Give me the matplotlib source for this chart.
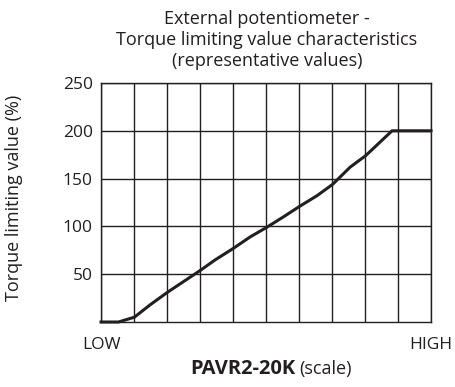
import matplotlib.pyplot as plt
import numpy as np

plt.rcParams['font.family'] = ['Open Sans', 'DejaVu Sans']

# potentiometer scale position (0 = LOW, 10 = HIGH) vs torque limit (%)
scale_pos = [0.0, 0.53, 1.01, 1.49, 2.01, 3.01, 3.46, 4.01, 4.52, 5.02,
             5.53, 6.02, 6.54, 7.02, 7.55, 8.02, 8.82, 10.0]
torque_pct = [0, 0, 5, 18, 31, 54, 65, 77, 89, 99,
              110, 121, 132, 144, 162, 174, 200, 200]
y_ticks = [50, 100, 150, 200, 250]
x_tick_labels = ['LOW', 'HIGH']

ink = '#231f20'
fs = 13

fig = plt.figure(figsize=(4.55, 3.87), dpi=100)
ax = fig.add_axes([101 / 455, 1 - 322 / 387, 330 / 455, 239 / 387])

ax.set_xlim(0, 10)
ax.set_ylim(0, 250)
ax.set_xticks(np.arange(0, 11, 1))
ax.set_xticklabels([x_tick_labels[0]] + [''] * 9 + [x_tick_labels[1]])
ax.set_yticks(y_ticks)
ax.grid(True, color=ink, linewidth=1.0)
ax.tick_params(length=0, labelsize=fs - 0.5, colors=ink, pad=6)
ax.tick_params(axis='x', pad=11)
for s in ax.spines.values():
    s.set_color(ink)
    s.set_linewidth(1.0)

ax.plot(scale_pos, torque_pct, color=ink, linewidth=2.2, solid_joinstyle='miter',
        clip_on=False, zorder=3)

ax.set_ylabel('Torque limiting value (%)', fontsize=fs, color=ink, labelpad=8)
ax.yaxis.set_label_coords(-78 / 330, 0.52)

fig.text(267 / 455, 1 - 40 / 387,
         'External potentiometer -\nTorque limiting value characteristics\n(representative values)',
         ha='center', va='center', fontsize=fs, color=ink, linespacing=1.25)

fig.text(295 / 455, 1 - 369 / 387, 'PAVR2-20K', ha='right', va='center',
         fontsize=14.5, fontweight='bold', color=ink)
fig.text(299 / 455, 1 - 369 / 387, '(scale)', ha='left', va='center',
         fontsize=fs, color=ink)

fig.savefig('out.png', dpi=100)
